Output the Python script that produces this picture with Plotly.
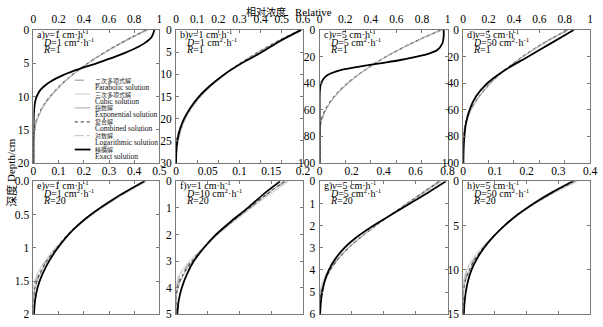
import plotly.graph_objects as go

W, H = 603, 327

# ---------------------------------------------------------------------------
# Data: relative concentration vs depth (cm) for panels a)–h)
# ---------------------------------------------------------------------------
panel_tags = ["a)", "b)", "c)", "d)", "e)", "f)", "g)", "h)"]
velocity = ["1", "1", "5", "5", "1", "1", "5", "5"]          # v, cm·h-1
dispersion = ["1", "1", "5", "50", "1", "10", "5", "50"]      # D, cm2·h-1
retardation = ["1", "1", "1", "1", "20", "20", "20", "20"]    # R

depth = [
    [0, 1, 2, 3, 4, 5, 6, 7, 8, 9, 10, 11, 12, 14, 16, 18, 20],
    [0, 2.5, 5, 7.5, 10, 12.5, 15, 17.5, 20, 22.5, 25, 27.5, 30],
    [0, 5, 10, 15, 17.5, 20, 22.5, 25, 27.5, 30, 32.5, 35, 40, 45, 50, 60, 70, 80, 90, 100],
    [0, 10, 20, 30, 40, 50, 60, 70, 80, 90, 100],
    [0, 0.25, 0.5, 0.75, 1, 1.2, 1.4, 1.6, 1.8, 2],
    [0, 0.5, 1, 1.5, 2, 2.5, 3, 3.5, 4, 4.5, 5],
    [0, 0.5, 1, 1.5, 2, 2.5, 3, 3.5, 4, 4.5, 5, 5.5, 6],
    [0, 1.25, 2.5, 3.75, 5, 6.25, 7.5, 8.75, 10, 11.25, 12.5, 13.75, 15],
]

exact = [
    [0.96, 0.94, 0.88, 0.78, 0.65, 0.50, 0.34, 0.21, 0.115, 0.055, 0.025, 0.011, 0.005, 0.001, 0, 0, 0],
    [0.59, 0.49, 0.405, 0.31, 0.228, 0.162, 0.108, 0.068, 0.038, 0.018, 0.006, 0.001, 0],
    [0.97, 0.97, 0.96, 0.92, 0.86, 0.76, 0.63, 0.47, 0.31, 0.17, 0.09, 0.045, 0.011, 0.002, 0, 0, 0, 0, 0, 0],
    [0.87, 0.69, 0.51, 0.33, 0.19, 0.10, 0.05, 0.022, 0.009, 0.003, 0.001],
    [0.44, 0.325, 0.228, 0.152, 0.097, 0.062, 0.035, 0.016, 0.006, 0.002],
    [0.164, 0.137, 0.113, 0.087, 0.063, 0.044, 0.028, 0.017, 0.009, 0.004, 0.002],
    [0.79, 0.68, 0.565, 0.45, 0.335, 0.235, 0.155, 0.098, 0.058, 0.032, 0.016, 0.007, 0.003],
    [0.345, 0.28, 0.222, 0.172, 0.13, 0.095, 0.066, 0.043, 0.026, 0.015, 0.008, 0.004, 0.002],
]

parabolic = [
    [0.90, 0.792, 0.692, 0.598, 0.510, 0.430, 0.357, 0.290, 0.231, 0.178, 0.132, 0.093, 0.060, 0.017, 0, 0, 0],
    [0.585, 0.481, 0.389, 0.305, 0.232, 0.169, 0.116, 0.072, 0.039, 0.016, 0.003, 0, 0],
    [0.95, 0.830, 0.719, 0.616, 0.567, 0.520, 0.476, 0.433, 0.393, 0.354, 0.317, 0.282, 0.219, 0.164, 0.117, 0.046, 0.008, 0, 0, 0],
    [0.82, 0.632, 0.469, 0.329, 0.215, 0.125, 0.059, 0.018, 0.001, 0, 0],
    [0.445, 0.33, 0.232, 0.152, 0.09, 0.05, 0.021, 0.003, 0, 0],
    [0.172, 0.143, 0.116, 0.09, 0.065, 0.043, 0.024, 0.009, 0.001, 0, 0],
    [0.75, 0.65, 0.548, 0.448, 0.352, 0.262, 0.18, 0.115, 0.065, 0.03, 0.008, 0, 0],
    [0.352, 0.285, 0.225, 0.173, 0.13, 0.093, 0.062, 0.036, 0.017, 0.005, 0, 0, 0],
]

cubic = [
    [0.91, 0.80, 0.70, 0.605, 0.515, 0.432, 0.357, 0.289, 0.228, 0.175, 0.130, 0.092, 0.062, 0.022, 0.004, 0, 0],
    [0.60, 0.488, 0.392, 0.306, 0.230, 0.166, 0.114, 0.074, 0.044, 0.024, 0.010, 0.002, 0],
    [0.96, 0.838, 0.724, 0.619, 0.569, 0.521, 0.476, 0.432, 0.391, 0.352, 0.315, 0.280, 0.216, 0.161, 0.115, 0.048, 0.012, 0.001, 0, 0],
    [0.83, 0.639, 0.473, 0.330, 0.213, 0.122, 0.057, 0.019, 0.003, 0, 0],
    [0.45, 0.335, 0.235, 0.153, 0.087, 0.045, 0.014, 0, 0, 0],
    [0.177, 0.147, 0.119, 0.092, 0.066, 0.042, 0.021, 0.005, 0, 0, 0],
    [0.765, 0.66, 0.555, 0.452, 0.353, 0.26, 0.176, 0.108, 0.055, 0.02, 0.002, 0, 0],
    [0.36, 0.29, 0.228, 0.175, 0.13, 0.092, 0.058, 0.03, 0.01, 0.001, 0, 0, 0],
]

exponential = [
    [0.89, 0.785, 0.688, 0.597, 0.512, 0.434, 0.362, 0.297, 0.238, 0.185, 0.138, 0.098, 0.064, 0.020, 0.002, 0, 0],
    [0.59, 0.483, 0.39, 0.305, 0.230, 0.167, 0.115, 0.073, 0.041, 0.019, 0.005, 0, 0],
    [0.945, 0.826, 0.716, 0.614, 0.566, 0.520, 0.477, 0.435, 0.396, 0.358, 0.322, 0.288, 0.225, 0.169, 0.120, 0.047, 0.008, 0, 0, 0],
    [0.815, 0.629, 0.468, 0.330, 0.217, 0.128, 0.062, 0.021, 0.003, 0, 0],
    [0.44, 0.327, 0.23, 0.152, 0.092, 0.054, 0.026, 0.007, 0, 0],
    [0.17, 0.142, 0.115, 0.089, 0.065, 0.044, 0.026, 0.012, 0.003, 0, 0],
    [0.745, 0.645, 0.545, 0.447, 0.352, 0.263, 0.183, 0.118, 0.068, 0.033, 0.011, 0.001, 0],
    [0.35, 0.283, 0.224, 0.173, 0.13, 0.094, 0.064, 0.039, 0.02, 0.007, 0.001, 0, 0],
]

combined = [
    [0.895, 0.79, 0.69, 0.598, 0.511, 0.431, 0.358, 0.291, 0.231, 0.178, 0.131, 0.091, 0.058, 0.016, 0, 0, 0],
    [0.587, 0.48, 0.387, 0.303, 0.229, 0.166, 0.113, 0.071, 0.038, 0.015, 0.002, 0, 0],
    [0.948, 0.828, 0.717, 0.615, 0.566, 0.519, 0.475, 0.432, 0.392, 0.353, 0.316, 0.281, 0.217, 0.161, 0.113, 0.042, 0.005, 0, 0, 0],
    [0.818, 0.63, 0.467, 0.328, 0.214, 0.124, 0.058, 0.017, 0.001, 0, 0],
    [0.442, 0.328, 0.229, 0.15, 0.091, 0.052, 0.024, 0.005, 0, 0],
    [0.171, 0.142, 0.116, 0.089, 0.064, 0.043, 0.025, 0.011, 0.002, 0, 0],
    [0.748, 0.648, 0.547, 0.448, 0.351, 0.261, 0.181, 0.116, 0.066, 0.031, 0.009, 0, 0],
    [0.351, 0.284, 0.224, 0.172, 0.129, 0.093, 0.063, 0.038, 0.019, 0.006, 0, 0, 0],
]

logarithmic = [
    [0.905, 0.80, 0.70, 0.606, 0.518, 0.437, 0.362, 0.294, 0.233, 0.179, 0.133, 0.094, 0.062, 0.021, 0.003, 0, 0],
    [0.595, 0.486, 0.392, 0.307, 0.232, 0.169, 0.117, 0.076, 0.045, 0.024, 0.011, 0.003, 0],
    [0.955, 0.834, 0.722, 0.618, 0.569, 0.522, 0.478, 0.435, 0.394, 0.355, 0.318, 0.283, 0.219, 0.165, 0.119, 0.05, 0.013, 0.001, 0, 0],
    [0.825, 0.636, 0.472, 0.331, 0.216, 0.126, 0.061, 0.022, 0.004, 0, 0],
    [0.447, 0.333, 0.234, 0.154, 0.09, 0.048, 0.018, 0.001, 0, 0],
    [0.175, 0.145, 0.118, 0.091, 0.066, 0.043, 0.023, 0.007, 0, 0, 0],
    [0.76, 0.657, 0.552, 0.45, 0.353, 0.261, 0.178, 0.111, 0.059, 0.024, 0.004, 0, 0],
    [0.357, 0.288, 0.227, 0.174, 0.13, 0.092, 0.06, 0.033, 0.013, 0.002, 0, 0, 0],
]

# Axis extents and tick labels
conc_max = [1, 0.6, 1, 1, 0.5, 0.2, 0.8, 0.4]
conc_ticks = [
    [0, 0.2, 0.4, 0.6, 0.8, 1],
    [0, 0.1, 0.2, 0.3, 0.4, 0.5, 0.6],
    [0, 0.2, 0.4, 0.6, 0.8, 1],
    [0, 0.2, 0.4, 0.6, 0.8, 1],
    [0, 0.1, 0.2, 0.3, 0.4, 0.5],
    [0, 0.05, 0.1, 0.15, 0.2],
    [0, 0.2, 0.4, 0.6, 0.8],
    [0, 0.1, 0.2, 0.3, 0.4],
]
conc_ticktext = [
    ["0", "0.2", "0.4", "0.6", "0.8", "1"],
    ["0", "0.1", "0.2", "0.3", "0.4", "0.5", "0.6"],
    ["0", "0.2", "0.4", "0.6", "0.8", "1"],
    ["0", "0.2", "0.4", "0.6", "0.8", "1"],
    ["0", "0.1", "0.2", "0.3", "0.4", "0.5"],
    ["0", "0.05", "0.1", "0.15", "0.2"],
    ["0", "0.2", "0.4", "0.6", "0.8"],
    ["0", "0.1", "0.2", "0.3", "0.4"],
]
depth_max = [20, 30, 100, 100, 2, 5, 6, 15]
depth_ticks = [
    [0, 5, 10, 15, 20],
    [0, 5, 10, 15, 20, 25, 30],
    [0, 20, 40, 60, 80, 100],
    [0, 20, 40, 60, 80, 100],
    [0, 0.5, 1, 1.5, 2],
    [0, 1, 2, 3, 4, 5],
    [0, 1, 2, 3, 4, 5, 6],
    [0, 5, 10, 15],
]
depth_ticktext = [
    ["0", "5", "10", "15", "20"],
    ["0", "5", "10", "15", "20", "25", "30"],
    ["0", "20", "40", "60", "80", "100"],
    ["0", "20", "40", "60", "80", "100"],
    ["0.0", "0.5", "1", "1.5", "2"],
    ["0", "1", "2", "3", "4", "5"],
    ["0", "1", "2", "3", "4", "5", "6"],
    ["0", "5", "10", "15"],
]

# Series names (Chinese / English) and line styles
series_cn = ["二次多项式解", "三次多项式解", "指数解", "复合解", "对数解", "精确解"]
series_en = ["Parabolic solution", "Cubic solution", "Exponential solution",
             "Combined solution", "Logarithmic solution", "Exact solution"]
series_data = [parabolic, cubic, exponential, combined, logarithmic, exact]
series_style = [
    dict(color="#8a8a8a", width=1, dash="dash"),
    dict(color="#cdcdcd", width=1, dash="solid"),
    dict(color="#a6a6a6", width=1, dash="solid"),
    dict(color="#555555", width=1.2, dash="dot"),
    dict(color="#bdbdbd", width=1, dash="dashdot"),
    dict(color="#000000", width=1.8, dash="solid"),
]

# ---------------------------------------------------------------------------
# Layout geometry (pixels)
# ---------------------------------------------------------------------------
col_px = [(31, 159), (176, 305), (322, 452), (468, 597)]
row_px = [(25, 163), (182, 320)]

SERIF = "Liberation Serif"
CJK = "Noto Sans CJK SC"
AXIS_COLOR = "#7a7a7a"


def px_x(p):
    return p / W


def px_y(p):
    return 1 - p / H


fig = go.Figure()
layout = dict(
    width=W, height=H,
    margin=dict(l=0, r=0, t=0, b=0),
    paper_bgcolor="white", plot_bgcolor="white",
    showlegend=False,
    font=dict(family=SERIF, size=11, color="black"),
)
annotations = []
shapes = []

for i in range(8):
    r, c = divmod(i, 4)
    n = "" if i == 0 else str(i + 1)
    xa, ya = "x" + n, "y" + n
    x0, x1 = col_px[c]
    y0, y1 = row_px[r]

    for s in range(6):
        fig.add_trace(go.Scatter(
            x=series_data[s][i], y=depth[i],
            xaxis=xa, yaxis=ya,
            mode="lines", line=dict(shape="spline", smoothing=0.8, **series_style[s]),
            name=series_en[s], hoverinfo="skip",
        ))

    common = dict(
        showline=True, linecolor=AXIS_COLOR, linewidth=1, mirror="allticks",
        ticks="inside", ticklen=3, tickcolor=AXIS_COLOR, tickwidth=1,
        showgrid=False, zeroline=False,
        tickfont=dict(family=SERIF, size=11.5, color="black"),
        tickmode="array",
    )
    layout["xaxis" + n] = dict(
        common, domain=[px_x(x0), px_x(x1)], anchor=ya, side="top",
        range=[0, conc_max[i]], tickvals=conc_ticks[i], ticktext=conc_ticktext[i],
        ticklabelstandoff=1,
    )
    layout["yaxis" + n] = dict(
        common, domain=[px_y(y1), px_y(y0)], anchor=xa,
        range=[depth_max[i], 0], tickvals=depth_ticks[i], ticktext=depth_ticktext[i],
        ticklabelstandoff=1,
    )

    # parameter labels in the upper-left corner of each panel
    lines = [
        (panel_tags[i] + "<i>v</i>=" + velocity[i] + " cm·h<sup>-1</sup>", 2, -4.5),
        ("<i>D</i>=" + dispersion[i] + " cm<sup>2</sup>·h<sup>-1</sup>", 8, -12),
        ("<i>R</i>=" + retardation[i], 8, -19),
    ]
    for text, dx, dy in lines:
        annotations.append(dict(
            text=text, xref=xa + " domain", yref=ya + " domain", x=0, y=1,
            xanchor="left", yanchor="middle", xshift=dx, yshift=dy,
            showarrow=False, font=dict(family=SERIF, size=10, color="black"),
        ))

# Legend drawn inside panel a)
leg_line_x = (73, 89)
leg_text_x = 92
leg_top = 77
leg_step = 14.4
for s in range(6):
    yc = leg_top + s * leg_step
    st = series_style[s]
    shapes.append(dict(
        type="line", xref="paper", yref="paper",
        x0=px_x(leg_line_x[0]), x1=px_x(leg_line_x[1]), y0=px_y(yc), y1=px_y(yc),
        line=dict(color=st["color"], width=st["width"], dash=st["dash"]),
    ))
    annotations.append(dict(
        text=series_cn[s], xref="paper", yref="paper",
        x=px_x(leg_text_x), y=px_y(yc), xanchor="left", yanchor="middle",
        showarrow=False, font=dict(family=CJK, size=6, color="#333333"),
    ))
    annotations.append(dict(
        text=series_en[s], xref="paper", yref="paper",
        x=px_x(leg_text_x), y=px_y(yc + 7.3), xanchor="left", yanchor="middle",
        showarrow=False, font=dict(family=SERIF, size=7.5, color="#111111"),
    ))

# Shared axis titles
annotations.append(dict(
    text="相对浓度", xref="paper", yref="paper", x=px_x(290), y=px_y(6),
    xanchor="right", yanchor="middle", showarrow=False,
    font=dict(family=CJK, size=10, color="black"),
))
annotations.append(dict(
    text="Relative", xref="paper", yref="paper", x=px_x(295), y=px_y(6),
    xanchor="left", yanchor="middle", showarrow=False,
    font=dict(family=SERIF, size=11, color="black"),
))
annotations.append(dict(
    text="深度", xref="paper", yref="paper", x=px_x(8), y=px_y(197),
    xanchor="center", yanchor="middle", textangle=-90, showarrow=False,
    font=dict(family=CJK, size=11, color="black"),
))
annotations.append(dict(
    text="Depth/cm", xref="paper", yref="paper", x=px_x(8), y=px_y(160),
    xanchor="center", yanchor="middle", textangle=-90, showarrow=False,
    font=dict(family=SERIF, size=11, color="black"),
))

layout["annotations"] = annotations
layout["shapes"] = shapes
fig.update_layout(**layout)
fig.write_html("out.html")
